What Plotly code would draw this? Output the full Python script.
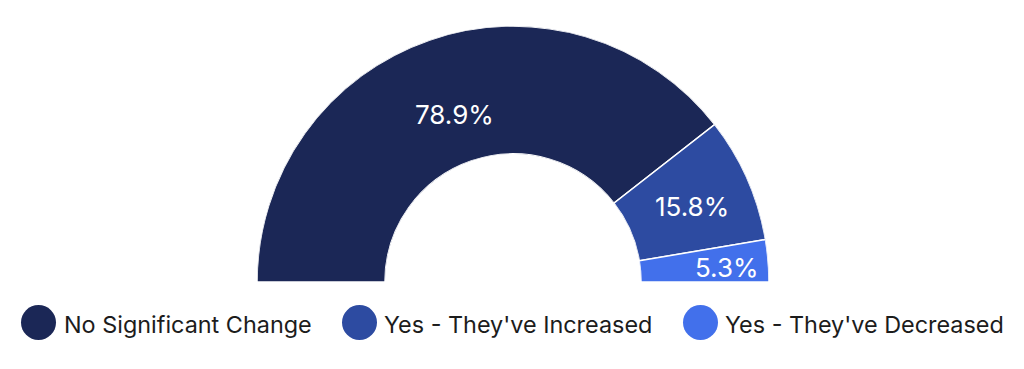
import math
import plotly.graph_objects as go

# ---- data ----
categories = ["No Significant Change", "Yes - They've Increased", "Yes - They've Decreased"]
values = [78.9, 15.8, 5.3]
value_labels = ["78.9%", "15.8%", "5.3%"]

# ---- style ----
colors = ["#1B2756", "#2D4BA1", "#4270EB"]
label_radius = [0.41, 0.525, 0.68]   # radial placement of labels within ring (0=inner, 1=outer)
legend_circle_x = [38.5, 359.5, 700.5]  # px
legend_text_x = [62, 382, 723]          # px
W, H = 1024, 369
cx, cy, R = 513, 282, 256
HOLE = 0.5

total = sum(values)
widths = [v / total * 180.0 for v in values]
centers = []
acc = 0.0
for w in widths:
    centers.append(acc + w / 2.0)
    acc += w

fig = go.Figure()
fig.add_trace(go.Barpolar(
    r=[1] * len(values),
    theta=centers,
    width=widths,
    marker=dict(color=colors, line=dict(color="white", width=1.5)),
    showlegend=False,
    hoverinfo="skip",
))

fig.update_layout(
    width=W, height=H,
    margin=dict(l=0, r=0, t=0, b=0),
    paper_bgcolor="white",
    plot_bgcolor="white",
    showlegend=False,
    polar=dict(
        domain=dict(x=[(cx - R) / W, (cx + R) / W], y=[(H - cy) / H, (H - cy + R) / H]),
        sector=[0, 180],
        hole=HOLE,
        bgcolor="white",
        angularaxis=dict(visible=False, rotation=180, direction="clockwise",
                         showgrid=False, showline=False, ticks=""),
        radialaxis=dict(visible=False, range=[0, 1], showgrid=False, showline=False, ticks=""),
    ),
)

annotations = []
# value labels placed on the ring (geometry derived from the data angles)
for lab, th, lr in zip(value_labels, centers, label_radius):
    ang = math.radians(180.0 - th)
    rp = R * HOLE + lr * R * (1 - HOLE)
    px = cx + rp * math.cos(ang)
    py = cy - rp * math.sin(ang)
    annotations.append(dict(
        text=lab, xref="paper", yref="paper",
        x=px / W, y=(H - py) / H, xanchor="center", yanchor="middle", yshift=-3,
        showarrow=False, font=dict(family="Inter", size=26, color="white"),
    ))

# custom legend with large circular swatches
legend_y = 322.5
rad = 17.5
shapes = []
for name, col, x0, tx in zip(categories, colors, legend_circle_x, legend_text_x):
    shapes.append(dict(
        type="circle", xref="paper", yref="paper",
        x0=(x0 - rad) / W, x1=(x0 + rad) / W,
        y0=(H - legend_y - rad) / H, y1=(H - legend_y + rad) / H,
        fillcolor=col, line=dict(width=0),
    ))
    annotations.append(dict(
        text=name, xref="paper", yref="paper",
        x=tx / W, y=(H - legend_y - 2) / H,
        xanchor="left", yanchor="middle", showarrow=False,
        font=dict(family="Inter", size=23.4, color="#1c1c1c"),
    ))
fig.update_layout(shapes=shapes, annotations=annotations)

fig.write_html("out.html")
